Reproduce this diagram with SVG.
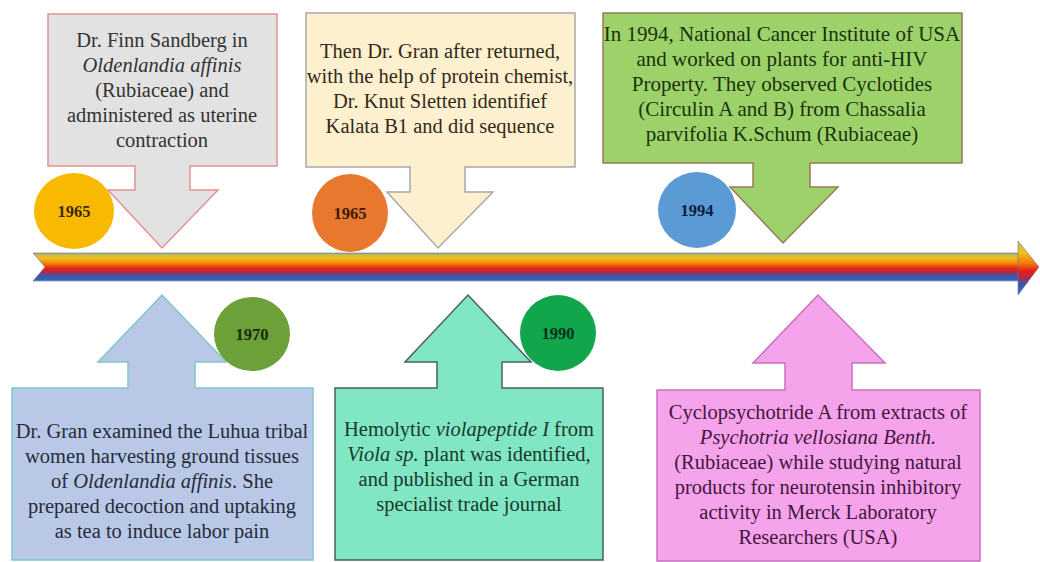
<svg xmlns="http://www.w3.org/2000/svg" width="1040" height="562" viewBox="0 0 1040 562">
<defs>
<linearGradient id="bar" gradientUnits="userSpaceOnUse" x1="0" y1="252" x2="0" y2="282">
<stop offset="0" stop-color="#8c9c7c"/>
<stop offset="0.1" stop-color="#c8bc50"/>
<stop offset="0.2" stop-color="#f4c018"/>
<stop offset="0.38" stop-color="#f2820e"/>
<stop offset="0.55" stop-color="#e82014"/>
<stop offset="0.68" stop-color="#b02c44"/>
<stop offset="0.78" stop-color="#3c56a6"/>
<stop offset="0.93" stop-color="#3a62b2"/>
<stop offset="1" stop-color="#9cd0e4"/>
</linearGradient>
<linearGradient id="head" gradientUnits="userSpaceOnUse" x1="0" y1="241" x2="0" y2="295">
<stop offset="0" stop-color="#c8bc50"/>
<stop offset="0.22" stop-color="#f4c018"/>
<stop offset="0.4" stop-color="#f2820e"/>
<stop offset="0.55" stop-color="#e82014"/>
<stop offset="0.68" stop-color="#b02c44"/>
<stop offset="0.8" stop-color="#3c56a6"/>
<stop offset="1" stop-color="#3a70c0"/>
</linearGradient>
<style>
.t{font-family:"Liberation Serif","Times New Roman","DejaVu Serif",serif;font-size:20.5px;text-anchor:middle}
.i{font-style:italic}
.y{font-family:"Liberation Serif","Times New Roman","DejaVu Serif",serif;font-size:16.5px;font-weight:bold;text-anchor:middle}
.box{stroke-width:1.5}
</style>
</defs>
<rect width="1040" height="562" fill="#ffffff"/>
<g id="connectors">
<path d="M33,253 H1019 V281 H33 L45,267 Z" fill="url(#bar)" stroke="#5a78b0" stroke-width="0.6"/>
<path d="M1018,241 L1039,267 L1018,295 Z" fill="url(#head)" stroke="#5a78b0" stroke-width="0.6"/>
</g>
<g id="box1965a">
<path class="box" d="M48,14 H277 V166 H190 V190 H218 L162,248 L108,190 H135 V166 H48 Z" fill="#e2e2e2" stroke="#e89090"/>
<g class="t" fill="#333333">
<text x="162" y="47">Dr. Finn Sandberg in</text>
<text x="162" y="72" class="i">Oldenlandia affinis</text>
<text x="162" y="97">(Rubiaceae) and</text>
<text x="162" y="122">administered as uterine</text>
<text x="162" y="147">contraction</text>
</g>
</g>
<g id="box1965b">
<path class="box" d="M306,13 H575 V167 H465 V192 H493 L438,248 L387,192 H410 V167 H306 Z" fill="#fdf0cf" stroke="#a8a8a8"/>
<g class="t" fill="#332a1a">
<text x="440" y="58">Then Dr. Gran after returned,</text>
<text x="440" y="83">with the help of protein chemist,</text>
<text x="440" y="108">Dr. Knut Sletten identifief</text>
<text x="440" y="133">Kalata B1 and did sequence</text>
</g>
</g>
<g id="box1994">
<path class="box" d="M603,13 H962 V163 H810 V187 H838 L783,243 L730,187 H753 V163 H603 Z" fill="#9dd26a" stroke="#9a7a5a"/>
<g class="t" fill="#1a320c" style="font-size:21px">
<text x="782" y="41">In 1994, National Cancer Institute of USA</text>
<text x="782" y="66">and worked on plants for anti-HIV</text>
<text x="782" y="91">Property. They observed Cyclotides</text>
<text x="782" y="116">(Circulin A and B) from Chassalia</text>
<text x="782" y="141">parvifolia K.Schum (Rubiaceae)</text>
</g>
</g>
<g id="box1970">
<path class="box" d="M12,388 H128 V362 H98 L162,295 L226,362 H195 V388 H313 V560 H12 Z" fill="#b8c8e6" stroke="#7ec8c8"/>
<g class="t" fill="#262c3a">
<text x="162" y="438">Dr. Gran examined the Luhua tribal</text>
<text x="162" y="463">women harvesting ground tissues</text>
<text x="162" y="488">of <tspan class="i">Oldenlandia affinis</tspan>. She</text>
<text x="162" y="513">prepared decoction and uptaking</text>
<text x="162" y="538">as tea to induce labor pain</text>
</g>
</g>
<g id="box1990">
<path class="box" d="M335,388 H437 V362 H405 L468,295 L531,362 H502 V388 H603 V560 H335 Z" fill="#80e6c4" stroke="#4a6060"/>
<g class="t" fill="#1a3a2a">
<text x="469" y="436">Hemolytic <tspan class="i">violapeptide I</tspan> from</text>
<text x="469" y="461"><tspan class="i">Viola sp.</tspan> plant was identified,</text>
<text x="469" y="486">and published in a German</text>
<text x="469" y="511">specialist trade journal</text>
</g>
</g>
<g id="boxMerck">
<path class="box" d="M657,390 H785 V363 H753 L818,295 L885,363 H852 V390 H980 V561 H657 Z" fill="#f5a3ea" stroke="#c870c0"/>
<g class="t" fill="#441640">
<text x="818" y="419">Cyclopsychotride A from extracts of</text>
<text x="818" y="444" class="i">Psychotria vellosiana Benth.</text>
<text x="818" y="469">(Rubiaceae) while studying natural</text>
<text x="818" y="494">products for neurotensin inhibitory</text>
<text x="818" y="519">activity in Merck Laboratory</text>
<text x="818" y="544">Researchers (USA)</text>
</g>
</g>
<g id="year1965a">
<ellipse cx="74" cy="211" rx="40" ry="38" fill="#f8b900"/>
<text class="y" x="74" y="217" fill="#3a2a00">1965</text>
</g>
<g id="year1965b">
<ellipse cx="350" cy="213" rx="38" ry="39" fill="#e8782e"/>
<text class="y" x="350" y="219" fill="#3a1a08">1965</text>
</g>
<g id="year1994">
<ellipse cx="697" cy="210" rx="39" ry="38" fill="#5b9bd5"/>
<text class="y" x="697" y="216" fill="#0e1e3a">1994</text>
</g>
<g id="year1970">
<ellipse cx="252" cy="334" rx="38" ry="37" fill="#6ea03a"/>
<text class="y" x="252" y="340" fill="#142a08">1970</text>
</g>
<g id="year1990">
<ellipse cx="558" cy="333" rx="38" ry="38" fill="#11a54c"/>
<text class="y" x="558" y="339" fill="#06301a">1990</text>
</g>
</svg>
